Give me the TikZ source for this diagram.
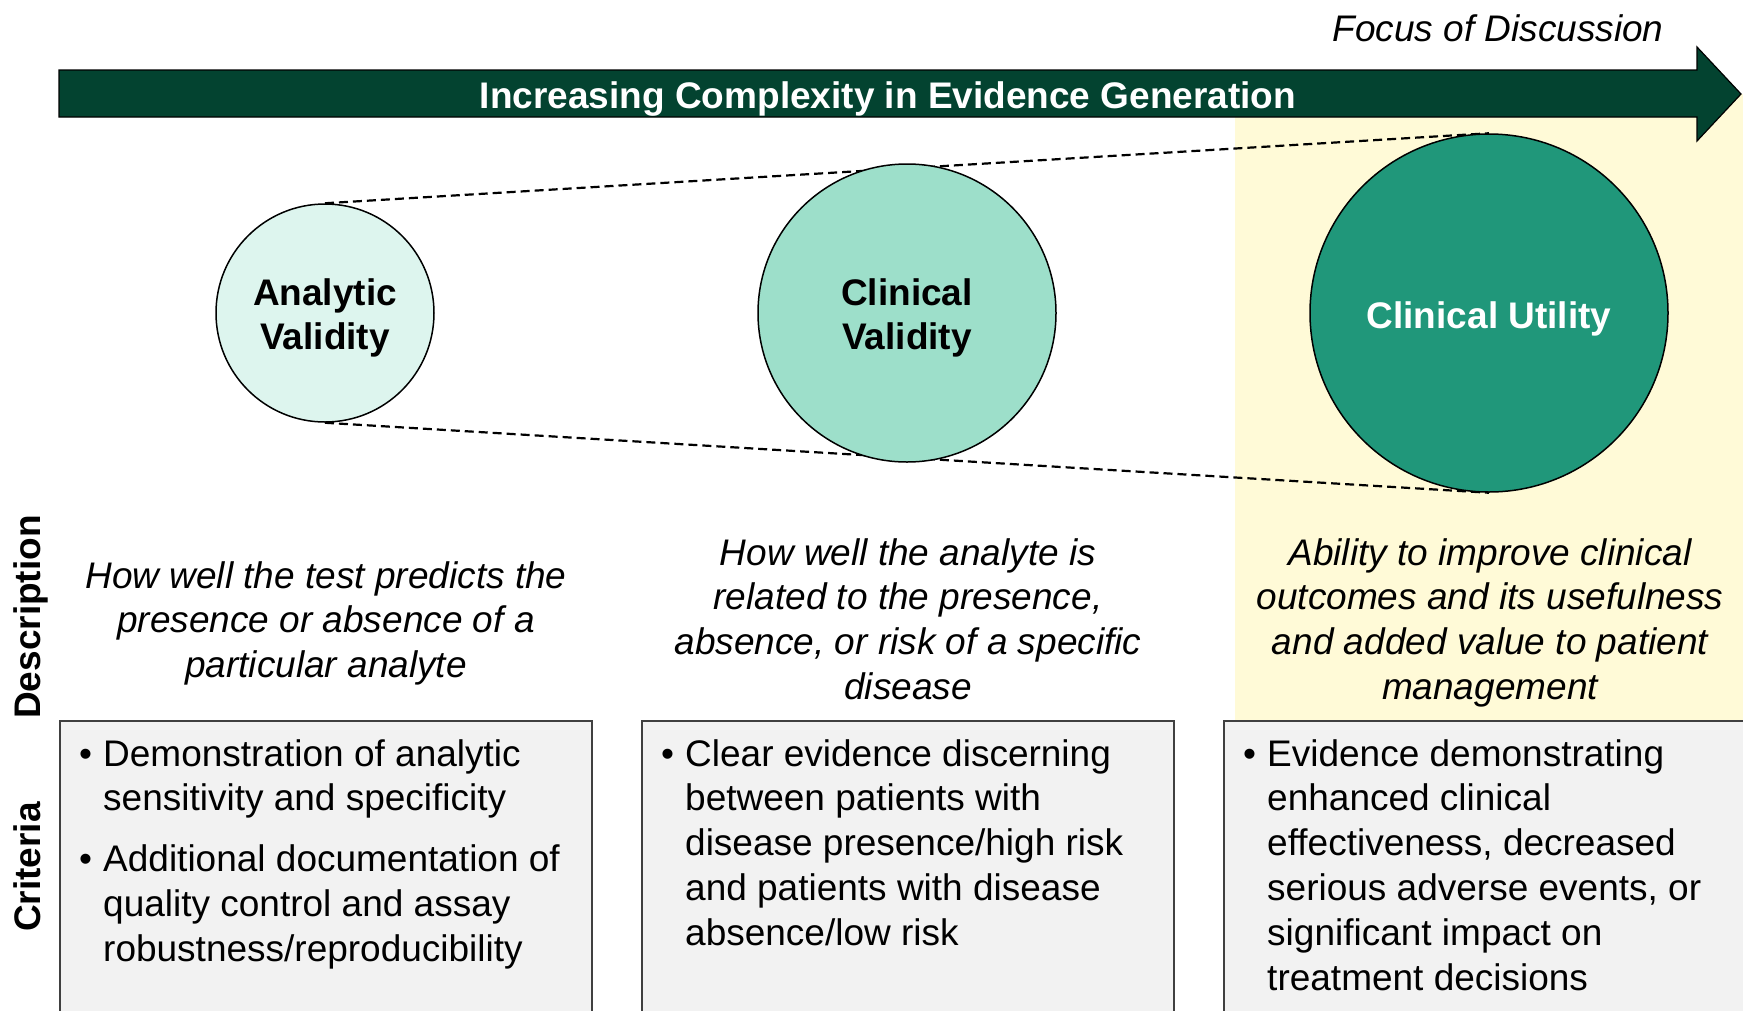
\documentclass[tikz,border=0pt]{standalone}
\usepackage{fontspec}
\setmainfont{Liberation Sans}
\usetikzlibrary{backgrounds}
\definecolor{arrowgreen}{RGB}{3,67,48}
\definecolor{avfill}{RGB}{221,245,238}
\definecolor{cvfill}{RGB}{157,223,202}
\definecolor{cufill}{RGB}{32,151,122}
\definecolor{focusyellow}{RGB}{255,250,215}
\definecolor{boxgray}{RGB}{242,242,242}
\definecolor{boxline}{RGB}{64,64,64}
\newcommand\mybul{\makebox[26pt][l]{\hspace{2pt}•}}
\begin{document}
\begin{tikzpicture}[x=1pt,y=-1pt,
  tx/.style={inner sep=0pt, font=\fontsize{37}{44.9}\selectfont},
  txb/.style={inner sep=0pt, font=\fontsize{37}{44.9}\selectfont\bfseries},
  txi/.style={inner sep=0pt, font=\fontsize{37}{44.9}\selectfont\itshape},
  circ/.style={circle, draw=black, line width=1.5pt, inner sep=0pt},
  link/.style={draw=black, line width=2.2pt, dash pattern=on 9pt off 5pt},
  critbox/.style={draw=boxline, fill=boxgray, line width=1.8pt, inner sep=0pt, anchor=north west, minimum width=532pt, minimum height=330pt},
]
\useasboundingbox (0,0) rectangle (1743,1010);
\clip (0,0) rectangle (1743,1010);

% circles
\node[circ, fill=avfill, minimum size=218pt] (av) at (325,313) {};
\node[circ, fill=cvfill, minimum size=298pt] (cv) at (907,313) {};
\node[circ, fill=cufill, minimum size=358pt] (cu) at (1489,313) {};

\begin{scope}[on background layer]
  \fill[focusyellow] (1235,94) rectangle (1743,720);
  \draw[link] (av.north) -- (cu.north);
  \draw[link] (av.south) -- (cu.south);
\end{scope}

% big arrow
\draw[fill=arrowgreen, draw=black, line width=1.2pt, line join=miter]
  (59,70) -- (1697,70) -- (1697,47) -- (1741,94) -- (1697,141) -- (1697,117) -- (59,117) -- cycle;
\node[txb, text=white, anchor=base] (title) at (888,108) {Increasing Complexity in Evidence Generation};
\node[txi, anchor=base] (focus) at (1498,41) {Focus of Discussion};

% circle labels
\node[txb, anchor=base] (avlbl) at (325,305) {\begin{tabular}[t]{@{}c@{}}Analytic\\Validity\end{tabular}};
\node[txb, anchor=base] (cvlbl) at (907,305) {\begin{tabular}[t]{@{}c@{}}Clinical\\Validity\end{tabular}};
\node[txb, text=white, anchor=base] (culbl) at (1489,328) {Clinical Utility};

% descriptions
\node[txi, anchor=base] (d1) at (326,588) {\begin{tabular}[t]{@{}c@{}}How well the test predicts the\\presence or absence of a\\particular analyte\end{tabular}};
\node[txi, anchor=base] (d2) at (908,565) {\begin{tabular}[t]{@{}c@{}}How well the analyte is\\related to the presence,\\absence, or risk of a specific\\disease\end{tabular}};
\node[txi, anchor=base] (d3) at (1490,565) {\begin{tabular}[t]{@{}c@{}}Ability to improve clinical\\outcomes and its usefulness\\and added value to patient\\management\end{tabular}};

% side labels
\node[txb, rotate=90, anchor=base] (desc) at (40,617) {Description};
\node[txb, rotate=90, anchor=base] (crit) at (40,867) {Criteria};

% criteria boxes
\node[critbox] (b1) at (59,720) {};
\node[critbox] (b2) at (641,720) {};
\node[critbox] (b3) at (1223,720) {};

\node[tx, anchor=base west] (c1) at (77,766) {\begin{tabular}[t]{@{}l@{}l@{}}\mybul & Demonstration of analytic\\ & sensitivity and specificity\\[16pt] \mybul & Additional documentation of\\ & quality control and assay\\ & robustness/reproducibility\end{tabular}};
\node[tx, anchor=base west] (c2) at (659,766) {\begin{tabular}[t]{@{}l@{}l@{}}\mybul & Clear evidence discerning\\ & between patients with\\ & disease presence/high risk\\ & and patients with disease\\ & absence/low risk\end{tabular}};
\node[tx, anchor=base west] (c3) at (1241,766) {\begin{tabular}[t]{@{}l@{}l@{}}\mybul & Evidence demonstrating\\ & enhanced clinical\\ & effectiveness, decreased\\ & serious adverse events, or\\ & significant impact on\\ & treatment decisions\end{tabular}};
\end{tikzpicture}
\end{document}
